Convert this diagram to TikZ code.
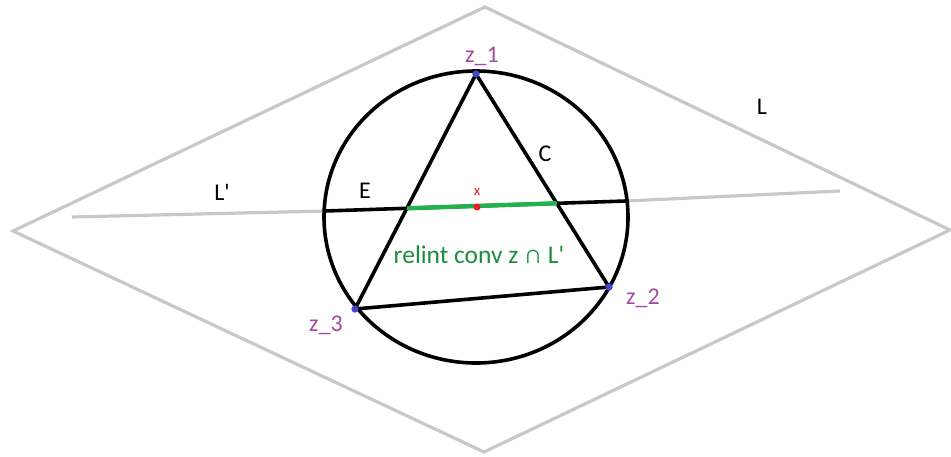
\documentclass[tikz,border=0pt]{standalone}
\usepackage{fontspec}
\setmainfont{Carlito}
\usepackage{xcolor}

\definecolor{plane}{RGB}{200,200,200}
\definecolor{seg}{RGB}{34,177,76}
\definecolor{ptlbl}{RGB}{163,73,164}
\definecolor{ptdot}{RGB}{63,72,204}
\definecolor{mark}{RGB}{237,28,36}

\begin{document}
\begin{tikzpicture}[
    x=1pt, y=-1pt,
    thinline/.style={draw=plane, line width=3.2pt},
    thickline/.style={draw=black, line width=3.6pt},
    greenline/.style={draw=seg, line width=4.4pt},
    lbl/.style={font=\fontsize{24}{26}\selectfont, inner sep=0pt},
    ptl/.style={lbl, text=ptlbl},
    dot/.style={circle, fill=ptdot, inner sep=0pt, minimum size=7pt}
]
\useasboundingbox (0,0) rectangle (951,456);

% Plane L
\coordinate (Ptop) at (485,7);
\coordinate (Pright) at (950,230);
\coordinate (Pbot) at (484,452);
\coordinate (Pleft) at (13,231);
\draw[thinline, line join=miter] (Ptop) -- (Pright) -- (Pbot) -- (Pleft) -- cycle;

% Line L'
\coordinate (La) at (72,217);
\coordinate (Lb) at (325,211);
\coordinate (Lc) at (626,201);
\coordinate (Ld) at (840,191);
\draw[thinline] (La) -- (Lb);
\draw[thinline] (Lc) -- (Ld);

% Ball and chord
\draw[thickline] (476,217) ellipse [x radius=152, y radius=146];
\draw[thickline] (Lb) -- (Lc);

% Triangle
\node[dot] (z1) at (476,74) {};
\node[dot] (z2) at (609,287) {};
\node[dot] (z3) at (355,309) {};
\draw[thickline, line join=round] (z1.center) -- (z2.center) -- (z3.center) -- cycle;

% relint conv z cap L'
\coordinate (Ea) at (intersection of z1--z3 and Lb--Lc);
\coordinate (Eb) at (intersection of z1--z2 and Lb--Lc);
\draw[greenline] (Ea) -- (Eb);
\node[circle, fill=mark, inner sep=0pt, minimum size=7pt] (xdot) at (477,207) {};
\node[lbl, text=mark, font=\fontsize{15}{16}\selectfont] (xlbl) at (477,192) {x};

\node[dot] at (z1) {};
\node[dot] at (z2) {};
\node[dot] at (z3) {};

% Labels
\node[ptl] (lz1) at (482,56) {z\_1};
\node[ptl] (lz2) at (643,298) {z\_2};
\node[ptl] (lz3) at (326,325) {z\_3};
\node[lbl] (lL) at (762,107) {L};
\node[lbl] (lLp) at (222,192) {L\textquotesingle};
\node[lbl] (lC) at (545,154) {C};
\node[lbl] (lE) at (365,191) {E};
\node[lbl, text=seg!80!black, font=\fontsize{25.5}{27}\selectfont] (lrel) at (479,255) {relint conv z ∩ L\textquotesingle};

\end{tikzpicture}
\end{document}
